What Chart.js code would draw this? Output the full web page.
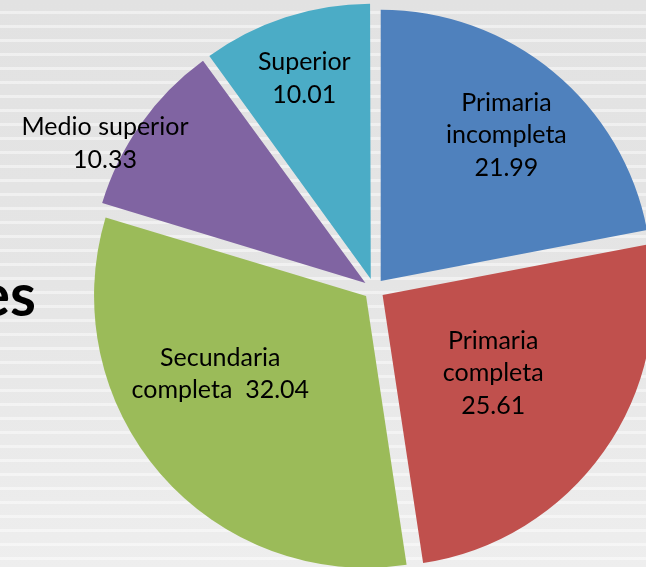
<!DOCTYPE html>
<html><head><meta charset="utf-8">
<script src="https://cdn.jsdelivr.net/npm/chart.js@4.4.1/dist/chart.umd.min.js"></script>
<style>
html,body{margin:0;padding:0;}
body{width:646px;height:567px;overflow:hidden;position:relative;
 background:
  repeating-linear-gradient(to bottom, rgba(255,255,255,0) 0px, rgba(255,255,255,0) 11px, rgba(255,255,255,0.45) 11px, rgba(255,255,255,0.45) 14px),
  linear-gradient(to bottom, #e2e2e2 0%, #e5e5e5 50%, #eeeeee 100%);}
#title{position:absolute;right:610px;top:264px;font:bold 59px Lato, "Open Sans", sans-serif;line-height:59px;color:#000;white-space:nowrap;}
#wrap{position:absolute;left:0;top:0;width:748px;height:578px;}
</style></head>
<body>
<div id="title">es</div>
<div id="wrap"><canvas id="c" width="748" height="578"></canvas></div>
<script>
// ---- data ----
const categories = ['Primaria incompleta', 'Primaria completa', 'Secundaria completa', 'Medio superior', 'Superior'];
const values = [21.99, 25.61, 32.04, 10.33, 10.01];
const labelLines = [['Primaria', 'incompleta'], ['Primaria', 'completa'], ['Secundaria', 'completa'], ['Medio superior'], ['Superior']];

// ---- style ----
const colors = ['#4F81BD', '#C0504D', '#9BBB59', '#8064A2', '#4BACC6'];
const explode = 42; // chart.js draws offset/4

const sliceLabels = {
  id: 'sliceLabels',
  afterDatasetsDraw(chart, args, opts) {
    const ctx = chart.ctx;
    const meta = chart.getDatasetMeta(0);
    meta.data.forEach((arc, i) => {
      const p = arc.getProps(['x', 'y', 'startAngle', 'endAngle', 'outerRadius'], true);
      const mid = (p.startAngle + p.endAngle) / 2;
      const off = explode / 4;
      const cx = p.x + Math.cos(mid) * off, cy = p.y + Math.sin(mid) * off;
      const pl = opts.place[i];
      const a = mid + pl.turn * Math.PI / 180;
      const r = p.outerRadius * pl.r;
      const lx = cx + Math.cos(a) * r, ly = cy + Math.sin(a) * r;
      const lines = labelLines[i].slice();
      const v = values[i].toFixed(2);
      if (opts.inline[i]) lines[lines.length - 1] += '  ' + v; else lines.push(v);
      ctx.save();
      ctx.font = opts.font;
      ctx.fillStyle = opts.color;
      ctx.textAlign = 'center';
      ctx.textBaseline = 'middle';
      lines.forEach((t, k) => ctx.fillText(t, lx, ly + (k - (lines.length - 1) / 2) * opts.lineHeight));
      ctx.restore();
    });
  }
};

new Chart(document.getElementById('c'), {
  type: 'pie',
  data: {
    labels: categories,
    datasets: [{
      data: values,
      backgroundColor: colors,
      borderWidth: 0,
      offset: explode,
      hoverOffset: 0,
      radius: 271
    }]
  },
  options: {
    responsive: false,
    animation: false,
    events: [],
    radius: 271,
    layout: { padding: 0 },
    plugins: {
      legend: { display: false },
      tooltip: { enabled: false },
      sliceLabels: {
        font: '25px Lato, "Open Sans", sans-serif',
        color: '#000000',
        lineHeight: 32.5,
        inline: [false, false, true, false, false],
        place: [
          { turn: 1.2, r: 0.71 },
          { turn: 0, r: 0.50 },
          { turn: 12.8, r: 0.61 },
          { turn: -7.2, r: 1.09 },
          { turn: -0.3, r: 0.78 }
        ]
      }
    }
  },
  plugins: [sliceLabels]
});
</script>
</body></html>
